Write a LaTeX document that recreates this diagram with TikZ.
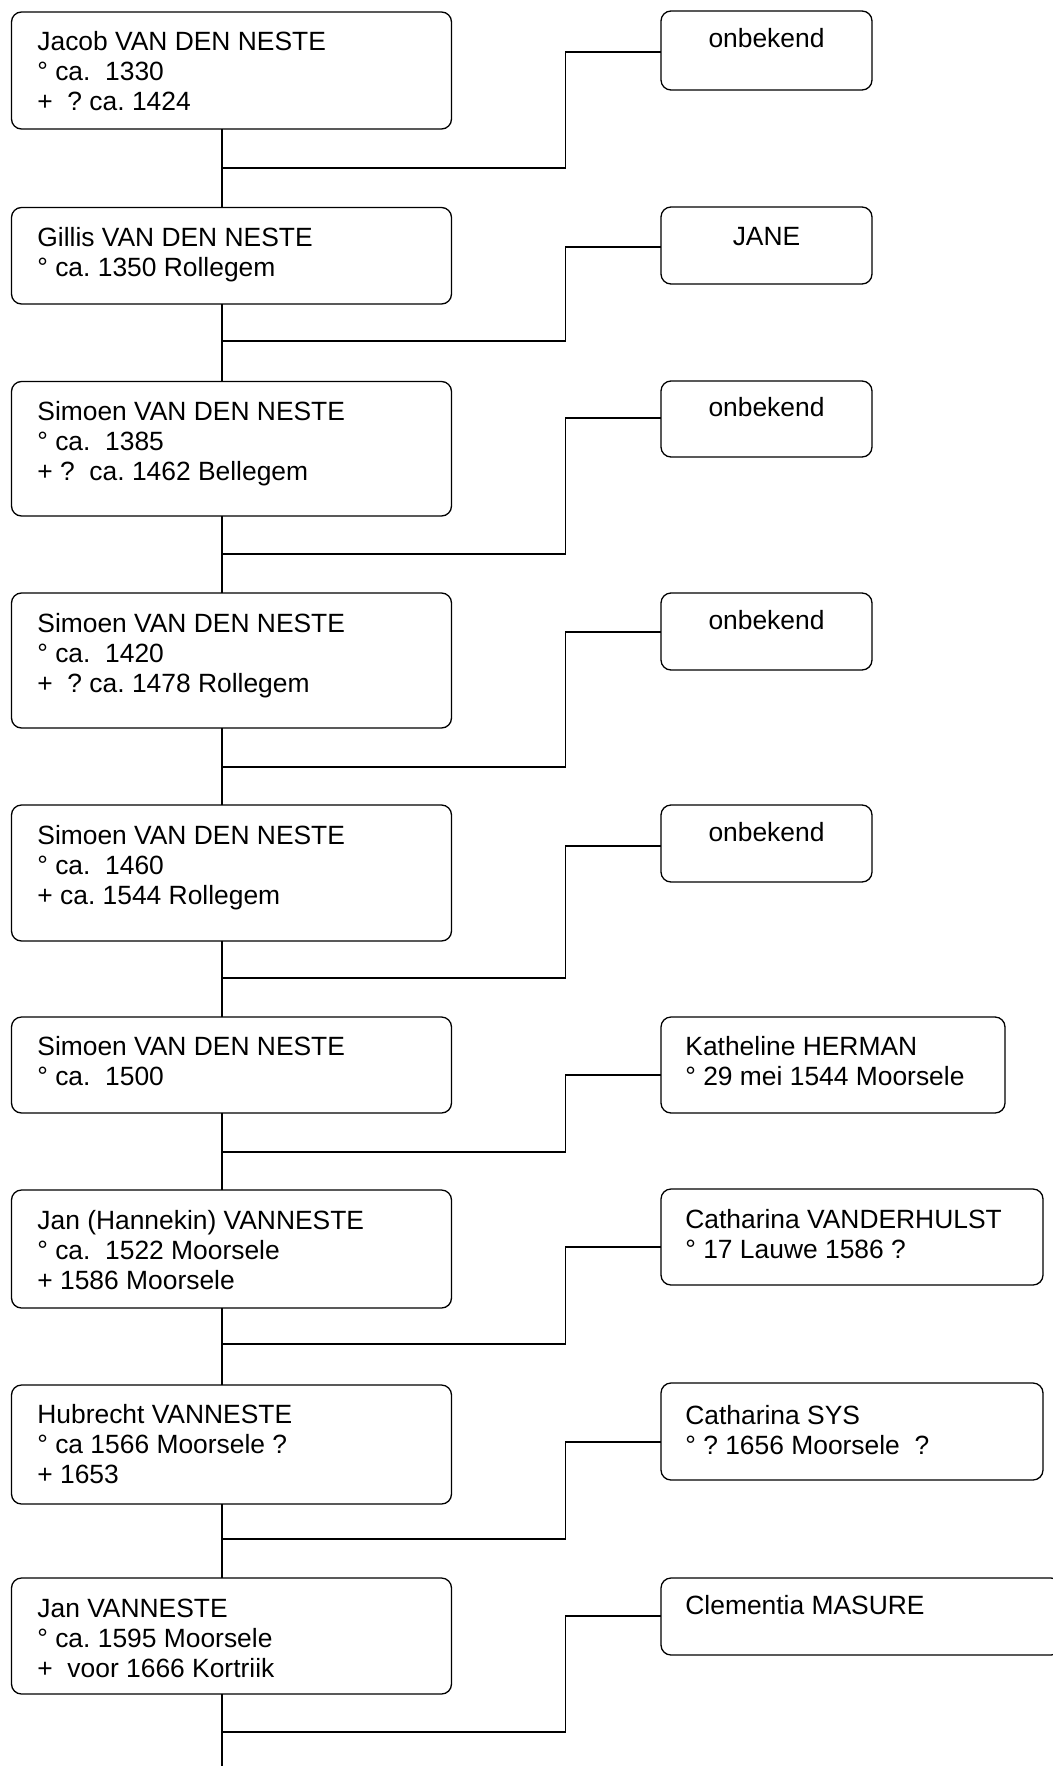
\documentclass[tikz,border=0pt]{standalone}
\usepackage{fontspec}
\setmainfont{Liberation Sans}
\frenchspacing

\begin{document}
\begin{tikzpicture}[x=0.5pt,y=0.5pt,yscale=-1,
  person/.style={draw,rounded corners=5pt,line width=0.65pt,inner sep=0pt,outer sep=0pt,anchor=north west,minimum width=220pt},
  partner/.style={draw,rounded corners=5pt,line width=0.65pt,inner sep=0pt,outer sep=0pt,anchor=north west,minimum width=105.5pt},
  info/.style={anchor=base west,align=left,inner sep=0pt,font=\fontsize{13.2}{15}\selectfont},
  unknown/.style={anchor=base,inner sep=0pt,font=\fontsize{13.2}{15}\selectfont},
  link/.style={line width=0.65pt}]
\useasboundingbox (0,0) rectangle (1053,1766);

% stamboom, linker kolom
\node[person,minimum height=58.5pt] (jacob) at (11.5,12) {};
\node[person,minimum height=48.25pt] (gillis) at (11.5,207.5) {};
\node[person,minimum height=67.25pt] (simoenA) at (11.5,381.5) {};
\node[person,minimum height=67.5pt] (simoenB) at (11.5,593) {};
\node[person,minimum height=68pt] (simoenC) at (11.5,805) {};
\node[person,minimum height=48pt] (simoenD) at (11.5,1017) {};
\node[person,minimum height=59pt] (jan) at (11.5,1190) {};
\node[person,minimum height=59.5pt] (hubrecht) at (11.5,1385) {};
\node[person,minimum height=58pt] (janV) at (11.5,1578) {};

% (base = basislijn van de laatste regel)
\node[info] (jacobT) at (37,111) {Jacob VAN DEN NESTE\\° ca.\ \ 1330\\+\ \ ? ca. 1424};
\node[info] (gillisT) at (37,276) {Gillis VAN DEN NESTE\\° ca. 1350 Rollegem};
\node[info] (simoenAT) at (37,480) {Simoen VAN DEN NESTE\\° ca.\ \ 1385\\+ ?\ \ ca. 1462 Bellegem};
\node[info] (simoenBT) at (37,692) {Simoen VAN DEN NESTE\\° ca.\ \ 1420\\+\ \ ? ca. 1478 Rollegem};
\node[info] (simoenCT) at (37,904) {Simoen VAN DEN NESTE\\° ca.\ \ 1460\\+ ca. 1544 Rollegem};
\node[info] (simoenDT) at (37,1085) {Simoen VAN DEN NESTE\\° ca.\ \ 1500};
\node[info] (janT) at (37,1289) {Jan (Hannekin) VANNESTE\\° ca.\ \ 1522 Moorsele\\+ 1586 Moorsele};
\node[info] (hubrechtT) at (37,1483) {Hubrecht VANNESTE\\° ca 1566 Moorsele ?\\+ 1653};
\node[info] (janVT) at (37,1677) {Jan VANNESTE\\° ca. 1595 Moorsele\\+\ \ voor 1666 Kortriik};

% echtgenotes, rechter kolom
\node[partner,minimum height=39.5pt] (wife1) at (661,11) {};
\node[partner,minimum height=38.5pt] (wife2) at (661,207) {};
\node[partner,minimum height=38pt] (wife3) at (661,381) {};
\node[partner,minimum height=38.5pt] (wife4) at (661,593) {};
\node[partner,minimum height=38.5pt] (wife5) at (661,805) {};
\node[partner,minimum height=48pt,minimum width=172pt] (wife6) at (661,1017) {};
\node[partner,minimum height=48pt,minimum width=191pt] (wife7) at (661,1189) {};
\node[partner,minimum height=48.5pt,minimum width=191pt] (wife8) at (661,1383) {};
\node[partner,minimum height=38.5pt,minimum width=200pt] (wife9) at (661,1578) {};

\node[unknown] (wife1T) at (766.5,48) {onbekend};
\node[unknown] (wife2T) at (766.5,245) {JANE};
\node[unknown] (wife3T) at (766.5,416) {onbekend};
\node[unknown] (wife4T) at (766.5,629) {onbekend};
\node[unknown] (wife5T) at (766.5,841) {onbekend};
\node[info] (wife6T) at (685,1085) {Katheline HERMAN\\° 29 mei 1544 Moorsele};
\node[info] (wife7T) at (685,1258) {Catharina VANDERHULST\\° 17 Lauwe 1586 ?};
\node[info] (wife8T) at (685,1454) {Catharina SYS\\° ? 1656 Moorsele\ \ ?};
\node[info] (wife9T) at (685,1614) {Clementia MASURE};

% aftakkingen op de stam
\coordinate (j1) at (222,168);
\coordinate (j2) at (222,341);
\coordinate (j3) at (222,554);
\coordinate (j4) at (222,767);
\coordinate (j5) at (222,978);
\coordinate (j6) at (222,1152);
\coordinate (j7) at (222,1344);
\coordinate (j8) at (222,1539);
\coordinate (j9) at (222,1732);
\coordinate (eind) at (222,1766);

\coordinate (k1) at (565.5,52);
\coordinate (k2) at (565.5,247);
\coordinate (k3) at (565.5,418);
\coordinate (k4) at (565.5,632);
\coordinate (k5) at (565.5,846);
\coordinate (k6) at (565.5,1075);
\coordinate (k7) at (565.5,1247);
\coordinate (k8) at (565.5,1442);
\coordinate (k9) at (565.5,1616);

% stam
\draw[link] (jacob.south -| j1) -- (gillis.north -| j1);
\draw[link] (gillis.south -| j1) -- (simoenA.north -| j1);
\draw[link] (simoenA.south -| j1) -- (simoenB.north -| j1);
\draw[link] (simoenB.south -| j1) -- (simoenC.north -| j1);
\draw[link] (simoenC.south -| j1) -- (simoenD.north -| j1);
\draw[link] (simoenD.south -| j1) -- (jan.north -| j1);
\draw[link] (jan.south -| j1) -- (hubrecht.north -| j1);
\draw[link] (hubrecht.south -| j1) -- (janV.north -| j1);
\draw[link] (janV.south -| j1) -- (eind);

% huwelijken
\draw[link] (j1) -| (k1) -- (k1 -| wife1.west);
\draw[link] (j2) -| (k2) -- (k2 -| wife2.west);
\draw[link] (j3) -| (k3) -- (k3 -| wife3.west);
\draw[link] (j4) -| (k4) -- (k4 -| wife4.west);
\draw[link] (j5) -| (k5) -- (k5 -| wife5.west);
\draw[link] (j6) -| (k6) -- (k6 -| wife6.west);
\draw[link] (j7) -| (k7) -- (k7 -| wife7.west);
\draw[link] (j8) -| (k8) -- (k8 -| wife8.west);
\draw[link] (j9) -| (k9) -- (k9 -| wife9.west);
\end{tikzpicture}
\end{document}
